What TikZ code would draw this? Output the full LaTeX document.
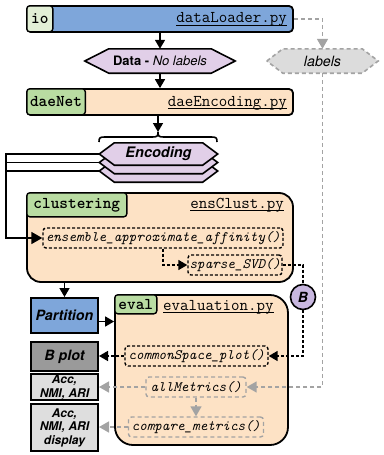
\documentclass[tikz,border=0pt]{standalone}
\usepackage{fontspec}
\newfontfamily\hv{TeX Gyre Heros}
\usetikzlibrary{arrows.meta,backgrounds}

\definecolor{ioblue}{HTML}{7EA6DA}
\definecolor{peach}{HTML}{FDE2C5}
\definecolor{tagpale}{HTML}{E2EFD6}
\definecolor{taggreen}{HTML}{B9DCA2}
\definecolor{lav}{HTML}{E1CFE8}
\definecolor{bpurple}{HTML}{C8B7DF}
\definecolor{darkbox}{HTML}{9A9A9A}
\definecolor{lightbox}{HTML}{DEDEDE}
\definecolor{lgray}{HTML}{A3A3A3}
\definecolor{lgfill}{HTML}{DCDCDC}

% outline of an elongated hexagon filling the bounding box of a node
\newcommand\hexoutline[3]{%
  \path[#3] (#1.west) -- ([xshift=#2]#1.north west) -- ([xshift=-#2]#1.north east)
    -- (#1.east) -- ([xshift=-#2]#1.south east) -- ([xshift=#2]#1.south west) -- cycle;}

% file name with a clearly visible underline
\newcommand\fileul[1]{\setbox0\hbox{#1}\rlap{\raisebox{-2.8pt}{\rule{\wd0}{0.9pt}}}\box0}

\tikzset{
  bar/.style={draw, line width=1.8pt, rounded corners=4pt, minimum width=266pt,
    minimum height=26pt, inner sep=0pt},
  panel/.style={draw, line width=1.8pt, fill=peach, inner sep=0pt},
  tag/.style={draw, line width=1.4pt, rounded corners=3pt, inner sep=0pt,
    font=\fontsize{16.5}{18}\selectfont\ttfamily\bfseries},
  fname/.style={inner sep=0pt, font=\fontsize{16.5}{18}\selectfont\ttfamily},
  func/.style={draw, line width=1.4pt, dash pattern=on 3pt off 2pt, rounded corners=3pt,
    minimum height=20pt, inner sep=0pt, font=\fontsize{14.4}{16}\selectfont\ttfamily\itshape},
  gfunc/.style={func, draw=lgray, dash pattern=on 4pt off 3pt},
  hexnode/.style={inner sep=0pt},
  hexfill/.style={draw, fill=lav, line width=1.6pt},
  outbox/.style={draw, line width=2pt, minimum width=67pt, inner sep=0pt, align=center,
    font=\hv\bfseries\itshape\fontsize{14.2}{16}\selectfont},
  smallout/.style={outbox, fill=lightbox, font=\hv\bfseries\itshape\fontsize{12}{13.5}\selectfont},
  arr/.style={line width=1.6pt, -{Triangle[length=9pt,width=10pt]}},
  dline/.style={line width=1.6pt, dash pattern=on 3pt off 2pt},
  darr/.style={dline, -{Triangle[length=9pt,width=10pt]}},
  garr/.style={draw=lgray, line width=1.6pt, dash pattern=on 4pt off 3pt,
    -{Triangle[length=10pt,width=11pt]}},
}

\begin{document}
\begin{tikzpicture}[x=1pt,y=-1pt]
\useasboundingbox (0,0) rectangle (383,455);

% data loading
\node[bar, fill=ioblue] (io) at (160,19) {};
\node[tag, fill=tagpale, minimum width=26pt, minimum height=26pt, anchor=north west] (iotag) at (io.north west) {io};
\node[fname, anchor=base east] (iofile) at (287,23) {\fileul{dataLoader.py}};

\node[hexnode, minimum width=150pt, minimum height=24pt] (data) at (160,61)
  {\hv\fontsize{13}{15}\selectfont\textbf{Data -} \textit{No labels}};
\node[hexnode, minimum width=111pt, minimum height=24pt] (labels) at (322.5,61)
  {\hv\fontsize{14.2}{16}\selectfont\textit{labels}};

% autoencoder
\node[bar, fill=peach] (dae) at (160,102) {};
\node[tag, fill=taggreen, minimum width=58.5pt, minimum height=26pt, anchor=north west] (daetag) at (dae.north west) {daeNet};
\node[fname, anchor=base east] (daefile) at (287,106) {\fileul{daeEncoding.py}};

% curly brace gathering the encodings
\coordinate (braceL) at (99,142);
\coordinate (braceR) at (217,142);
\coordinate (bracetip) at (158,132);
\draw[line width=1.6pt]
  (braceL) .. controls ([yshift=4.5pt]braceL) and ([xshift=1pt,yshift=5pt]braceL) .. ([xshift=6pt,yshift=5pt]braceL)
  -- ([xshift=-6pt,yshift=-5pt]bracetip)
  .. controls ([xshift=-1pt,yshift=-5pt]bracetip) and ([yshift=-4.5pt]bracetip) .. (bracetip)
  .. controls ([yshift=-4.5pt]bracetip) and ([xshift=1pt,yshift=-5pt]bracetip) .. ([xshift=6pt,yshift=-5pt]bracetip)
  -- ([xshift=-6pt,yshift=5pt]braceR)
  .. controls ([xshift=-1pt,yshift=5pt]braceR) and ([yshift=4.5pt]braceR) .. (braceR);

\node[hexnode, minimum width=118pt, minimum height=22pt] (enc3) at (158.5,171) {};
\node[hexnode, minimum width=118pt, minimum height=22pt] (enc2) at (158.5,162.5) {};
\node[hexnode, minimum width=118pt, minimum height=22pt] (enc1) at (158.5,154)
  {\hv\bfseries\itshape\fontsize{14.5}{16}\selectfont Encoding};

\begin{scope}[on background layer]
  \hexoutline{data}{24pt}{hexfill}
  \hexoutline{labels}{16pt}{draw=lgray, fill=lgfill, line width=1.6pt, dash pattern=on 4pt off 3pt}
  \hexoutline{enc3}{15pt}{hexfill}
  \hexoutline{enc2}{15pt}{hexfill}
  \hexoutline{enc1}{15pt}{hexfill}
\end{scope}

% clustering
\node[panel, minimum width=266pt, minimum height=89pt, rounded corners=14pt] (clus) at (160,237.5) {};
\node[tag, fill=taggreen, minimum width=100pt, minimum height=24pt, anchor=north west] (clustag) at (clus.north west) {clustering};
\node[fname, anchor=base east] (clusfile) at (284,208) {\fileul{ensClust.py}};
\node[func, minimum width=240pt] (ens) at (163,238) {ensemble\_approximate\_affinity()};
\node[func, minimum width=94pt] (svd) at (235,265) {sparse\_SVD()};

\node[circle, draw, fill=bpurple, line width=1.6pt, minimum size=25pt, inner sep=0pt,
  font=\hv\bfseries\itshape\fontsize{14}{16}\selectfont] (B) at (303,297) {B};

% evaluation
\node[panel, minimum width=173pt, minimum height=150pt, rounded corners=18pt] (evalbox) at (201.5,370) {};
\node[tag, fill=taggreen, minimum width=42pt, minimum height=19pt, anchor=north west] (evaltag) at (evalbox.north west) {eval};
\node[fname, anchor=base west] (evalfile) at (163,310) {\fileul{evaluation.py}};
\node[func, minimum width=143pt] (csp) at (196.5,356) {commonSpace\_plot()};
\node[gfunc, minimum width=100pt] (am) at (196,387) {allMetrics()};
\node[gfunc, minimum width=135pt] (cm) at (196,427) {compare\_metrics()};

% outputs
\node[outbox, fill=ioblue, minimum height=35pt] (part) at (64.5,315.5) {Partition};
\node[outbox, fill=darkbox, minimum height=29pt] (bplot) at (64.5,356.5) {B plot};
\node[smallout, minimum height=26pt] (acc) at (64.5,387) {Acc,\\NMI, ARI};
\node[smallout, minimum height=47pt] (disp) at (64.5,427.5) {Acc,\\NMI, ARI\\display};

% connectors
\coordinate (bus) at (6,0);
\draw[arr] (io.south -| data.north) -- (data.north);
\draw[arr] (data.south) -- (dae.north -| data.south);
\draw[arr] (bracetip |- dae.south) -- (bracetip);
\draw[line width=1.6pt] (enc2.west) -- (enc2.west -| bus);
\draw[line width=1.6pt] (enc3.west) -- (enc3.west -| bus);
\draw[arr, -{Triangle[length=11pt,width=12pt]}] (enc1.west) -- (enc1.west -| bus) |- (ens.west);
\draw[darr] (ens.south) |- (svd.west);
\draw[dline] (svd.east) -| (B.north);
\draw[darr] (B.south) |- (csp.east);
\draw[arr] (part.north |- clus.south) -- (part.north);
\draw[arr] ([yshift=-6pt]part.east) -- ([yshift=-6pt]part.east -| evalbox.west);
\draw[darr] (csp.west) -- (bplot.east |- csp.west);
\draw[garr] (io.east) -| (labels.north);
\draw[garr] (labels.south) |- (am.east);
\draw[garr] (am.west) -- (acc.east |- am.west);
\draw[garr] (am.south) -- (cm.north);
\draw[garr] (cm.west) -- (disp.east |- cm.west);
\end{tikzpicture}
\end{document}
